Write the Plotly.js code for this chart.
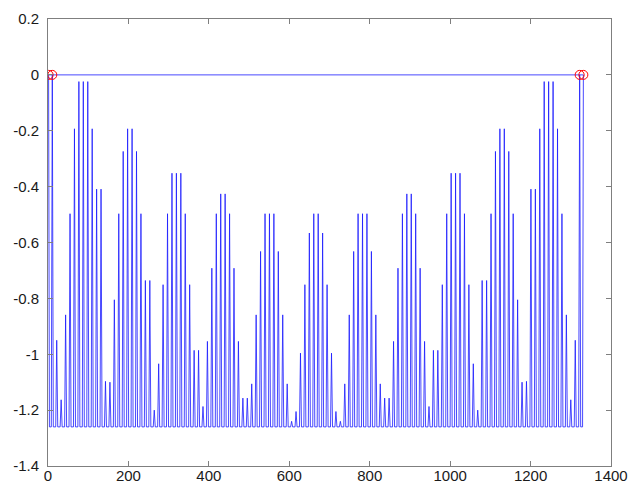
<!DOCTYPE html>
<html>
<head>
<meta charset="utf-8">
<script src="https://cdn.plot.ly/plotly-3.0.1.min.js"></script>
<style>html,body{margin:0;padding:0;background:#fff;}#chart{width:629px;height:484px;}</style>
</head>
<body>
<div id="chart"></div>
<script>
// Spike positions (x)
const spikeX = [
  10.7, 21.7, 32.7, 43.8, 54.8, 65.8, 76.8, 87.8, 98.9, 109.9,
  120.9, 131.9, 142.9, 154.0, 165.0, 176.0, 187.0, 198.0, 209.1, 220.1,
  231.1, 242.1, 253.2, 264.2, 275.2, 286.2, 297.2, 308.3, 319.3, 330.3,
  341.3, 352.3, 363.4, 374.4, 385.4, 396.4, 407.4, 418.5, 429.5, 440.5,
  451.5, 462.5, 473.5, 484.6, 495.6, 506.6, 517.6, 528.6, 539.7, 550.7,
  561.7, 572.7, 583.7, 594.8, 605.8, 616.8, 627.8, 638.8, 649.9, 660.9,
  671.9, 682.9, 694.0, 705.0, 716.0, 727.0, 738.0, 749.1, 760.1, 771.1,
  782.1, 793.1, 804.2, 815.2, 826.2, 837.2, 848.2, 859.3, 870.3, 881.3,
  892.3, 903.3, 914.3, 925.4, 936.4, 947.4, 958.4, 969.4, 980.5, 991.5,
  1002.5, 1013.5, 1024.5, 1035.6, 1046.6, 1057.6, 1068.6, 1079.6, 1090.7, 1101.7,
  1112.7, 1123.7, 1134.7, 1145.8, 1156.8, 1167.8, 1178.8, 1189.8, 1200.9, 1211.9,
  1222.9, 1233.9, 1244.9, 1256.0, 1267.0, 1278.0, 1289.0, 1300.0, 1311.1, 1322.1
];
// Spike peak values
const spikePeak = [
  0, -0.95, -1.163, -0.859, -0.497, -0.193, -0.024, -0.024, -0.024, -0.193,
  -0.409, -0.409, -1.097, -1.1, -0.805, -0.497, -0.274, -0.193, -0.193, -0.274,
  -0.497, -0.736, -0.736, -1.2, -1.034, -0.751, -0.497, -0.352, -0.352, -0.352,
  -0.497, -0.751, -0.986, -0.986, -1.187, -0.954, -0.692, -0.497, -0.426, -0.426,
  -0.497, -0.692, -0.954, -1.157, -1.157, -1.106, -0.859, -0.632, -0.497, -0.497,
  -0.497, -0.632, -0.859, -1.106, -1.24, -1.205, -0.996, -0.751, -0.566, -0.497,
  -0.497, -0.566, -0.751, -0.996, -1.205, -1.24, -1.106, -0.859, -0.632, -0.497,
  -0.497, -0.497, -0.632, -0.859, -1.106, -1.157, -1.157, -0.954, -0.692, -0.497,
  -0.426, -0.426, -0.497, -0.692, -0.954, -1.187, -0.986, -0.986, -0.751, -0.497,
  -0.352, -0.352, -0.352, -0.497, -0.751, -1.034, -1.2, -0.736, -0.736, -0.497,
  -0.274, -0.193, -0.193, -0.274, -0.497, -0.805, -1.1, -1.097, -0.409, -0.409,
  -0.193, -0.024, -0.024, -0.024, -0.193, -0.497, -0.859, -1.163, -0.95, 0
];
const baseLevel = -1.26;          // trough level between spikes
const endX = [1.5, 1331.3];       // outer end points of the curve (at y = 0)
const endY = [0, 0];
const circleX = [1.5, 10.7, 1322.1, 1331.3];
const circleY = [0, 0, 0, 0];
const xTicks = [0, 200, 400, 600, 800, 1000, 1200, 1400];
const yTicks = [-1.4, -1.2, -1, -0.8, -0.6, -0.4, -0.2, 0, 0.2];
const yTickText = ['-1.4', '-1.2', '-1', '-0.8', '-0.6', '-0.4', '-0.2', '0', '0.2'];

// Build the curve from the read values
const halfW = 2.5;
const lx = [endX[0], endX[0] + 2];
const ly = [endY[0], baseLevel];
for (let i = 0; i < spikeX.length; i++) {
  lx.push(spikeX[i] - halfW, spikeX[i], spikeX[i] + halfW);
  ly.push(baseLevel, spikePeak[i], baseLevel);
}
lx.push(endX[1] - 2, endX[1], endX[0]);
ly.push(baseLevel, endY[1], endY[0]);

const traces = [
  {x: lx, y: ly, type: 'scatter', mode: 'lines',
   line: {color: '#1a1aff', width: 0.8}, hoverinfo: 'skip'},
  {x: circleX, y: circleY, type: 'scatter', mode: 'markers',
   marker: {symbol: 'circle-open', size: 9, color: '#ff0000', line: {width: 1, color: '#ff0000'}},
   hoverinfo: 'skip'}
];

const axisCommon = {
  showgrid: false, zeroline: false, showline: true, mirror: 'ticks',
  linecolor: '#7f7f7f', linewidth: 1, ticks: 'inside', ticklen: 5,
  tickcolor: '#7f7f7f', tickwidth: 1,
  tickfont: {family: 'Liberation Sans, Arial, sans-serif', size: 15, color: '#1a1a1a'},
  automargin: false
};

const layout = {
  width: 629, height: 484,
  margin: {l: 48, r: 18, t: 19, b: 18, pad: 0},
  paper_bgcolor: '#ffffff', plot_bgcolor: '#ffffff',
  showlegend: false,
  xaxis: Object.assign({}, axisCommon, {range: [0, 1400], tickvals: xTicks, ticktext: xTicks.map(String), ticklabelstandoff: -4}),
  yaxis: Object.assign({}, axisCommon, {range: [-1.4, 0.2], tickvals: yTicks, ticktext: yTickText, ticklabelstandoff: 5})
};

Plotly.newPlot('chart', traces, layout, {staticPlot: true, displayModeBar: false});
</script>
</body>
</html>
